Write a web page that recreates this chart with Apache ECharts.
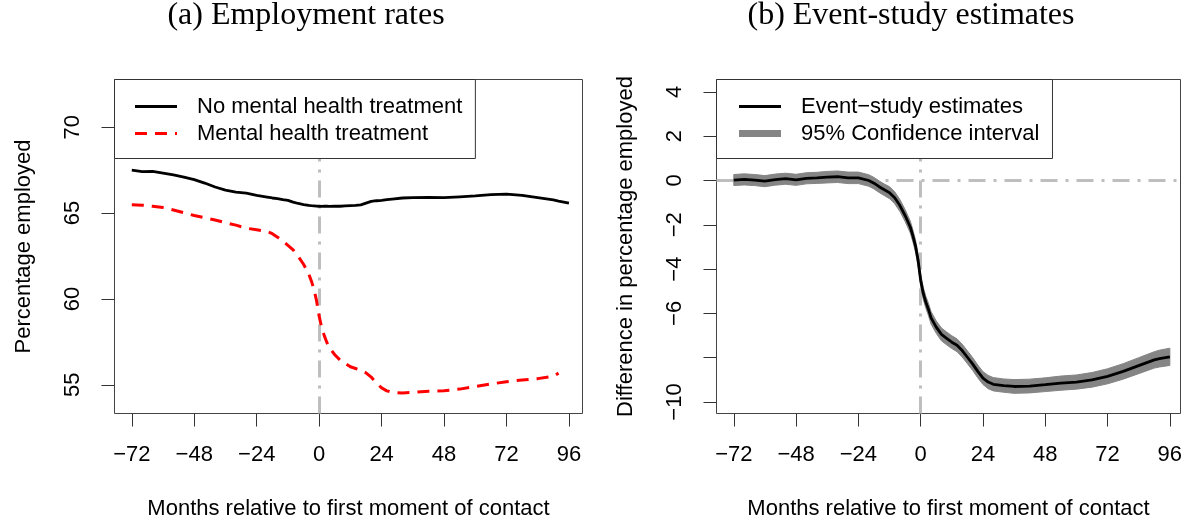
<!DOCTYPE html>
<html>
<head>
<meta charset="utf-8">
<script src="https://cdn.jsdelivr.net/npm/echarts@6/dist/echarts.min.js"></script>
<style>
  html, body { margin: 0; padding: 0; background: #fff; }
  #chart { width: 1191px; height: 523px; }
</style>
</head>
<body>
<div id="chart"></div>
<script>
// Months relative to first moment of contact (shared by every series)
const months = [-72, -68, -64, -60, -56, -52, -48, -44, -40, -36, -32, -28, -24, -20,
  -18, -16, -14, -12, -10, -8, -6, -4, -3, -2, -1, 0, 1, 2, 3, 4,
  6, 8, 10, 12, 14, 16, 18, 20, 22, 24, 26, 28,
  32, 36, 42, 48, 54, 60, 66, 72, 78, 84, 90, 92, 96];

// (a) Employment rates, in percent
const noTreatment = [67.50, 67.42, 67.43, 67.33, 67.22, 67.10, 66.95, 66.75, 66.52, 66.34, 66.22, 66.16, 66.03, 65.93,
  65.88, 65.84, 65.78, 65.74, 65.64, 65.56, 65.50, 65.45, 65.43, 65.42, 65.41, 65.40, 65.39, 65.41, 65.40, 65.39,
  65.41, 65.40, 65.42, 65.44, 65.45, 65.48, 65.58, 65.68, 65.72, 65.74, 65.78, 65.82,
  65.88, 65.90, 65.92, 65.90, 65.95, 66.00, 66.08, 66.11, 66.03, 65.90, 65.77, 65.70, 65.58];

const treatment = [65.49, 65.46, 65.40, 65.32, 65.18, 65.02, 64.86, 64.73, 64.60, 64.44, 64.30, 64.12, 64.03, 63.93,
  63.80, 63.60, 63.38, 63.12, 62.86, 62.47, 62.02, 61.45, 61.05, 60.55, 59.90, 59.00, 58.30, 57.85, 57.45, 57.15,
  56.75, 56.45, 56.25, 56.05, 55.95, 55.85, 55.70, 55.45, 55.10, 54.82, 54.65, 54.57,
  54.52, 54.56, 54.62, 54.66, 54.75, 54.90, 55.05, 55.18, 55.28, 55.36, 55.50, 55.68, null];

// (b) Event-study estimates with 95% confidence bounds
const estimate = [0.02, 0.05, 0.02, -0.03, 0.04, 0.08, 0.03, 0.10, 0.12, 0.15, 0.17, 0.12, 0.12, 0.00,
  -0.12, -0.28, -0.42, -0.55, -0.78, -1.13, -1.58, -2.10, -2.50, -2.95, -3.60, -4.50, -5.10, -5.50, -5.82, -6.20,
  -6.62, -6.95, -7.13, -7.30, -7.44, -7.68, -7.98, -8.28, -8.62, -8.92, -9.10, -9.20,
  -9.26, -9.30, -9.28, -9.22, -9.15, -9.10, -9.00, -8.84, -8.62, -8.36, -8.10, -8.04, -7.96];

const ciLower = [-0.23, -0.20, -0.23, -0.28, -0.21, -0.17, -0.22, -0.15, -0.13, -0.11, -0.09, -0.14, -0.14, -0.26,
  -0.38, -0.54, -0.68, -0.82, -1.05, -1.40, -1.85, -2.37, -2.77, -3.22, -3.87, -4.77, -5.37, -5.77, -6.10, -6.48,
  -6.90, -7.24, -7.42, -7.59, -7.73, -7.97, -8.27, -8.57, -8.91, -9.21, -9.40, -9.50,
  -9.56, -9.61, -9.59, -9.53, -9.47, -9.42, -9.33, -9.18, -8.97, -8.72, -8.47, -8.42, -8.35];

const ciUpper = [0.27, 0.30, 0.27, 0.22, 0.29, 0.33, 0.28, 0.35, 0.37, 0.41, 0.43, 0.38, 0.38, 0.26,
  0.14, -0.02, -0.16, -0.28, -0.51, -0.86, -1.31, -1.83, -2.23, -2.68, -3.33, -4.23, -4.83, -5.23, -5.54, -5.92,
  -6.34, -6.66, -6.84, -7.01, -7.15, -7.39, -7.69, -7.99, -8.33, -8.63, -8.80, -8.90,
  -8.96, -8.99, -8.97, -8.91, -8.83, -8.78, -8.67, -8.50, -8.27, -8.00, -7.73, -7.66, -7.57];

// Tick positions and labels
const xTicks = [-72, -48, -24, 0, 24, 48, 72, 96];
const leftYTicks = [55, 60, 65, 70];
const rightYTicks = [-10, -8, -6, -4, -2, 0, 2, 4];
const rightYLabels = [-10, -6, -4, -2, 0, 2, 4];

const SANS = 'Liberation Sans';
const SERIF = 'Liberation Serif';
const BAND = '#858585';
const pairs = ys => months.map((m, i) => [m, ys[i]]);
const fmt = v => String(v).replace('-', '\u2212');
const textBase = { fontFamily: SANS, fontSize: 22, color: '#000' };
const refLine = { color: '#bebebe', width: 3, type: [17, 8, 3, 8] };

function xAxis(gridIndex, min, max) {
  return {
    type: 'value', gridIndex, min, max,
    name: 'Months relative to first moment of contact',
    nameLocation: 'middle', nameGap: 84, nameTextStyle: textBase,
    axisLine: { show: false, onZero: false }, splitLine: { show: false },
    axisTick: { show: true, inside: false, length: 13, lineStyle: { color: '#333', width: 1 }, customValues: xTicks },
    axisLabel: Object.assign({ show: true, margin: 30, customValues: xTicks, formatter: fmt }, textBase)
  };
}

function yAxis(gridIndex, min, max, name, ticks, labels) {
  return {
    type: 'value', gridIndex, min, max, name,
    nameLocation: 'middle', nameGap: 80, nameRotate: 90, nameTextStyle: textBase,
    axisLine: { show: false, onZero: false }, splitLine: { show: false },
    axisTick: { show: true, inside: false, length: 13, lineStyle: { color: '#333', width: 1 }, customValues: ticks },
    axisLabel: Object.assign({ show: true, margin: 31, rotate: 90, customValues: labels, formatter: fmt }, textBase)
  };
}

function legend(names, left) {
  return {
    data: names, orient: 'vertical', left, top: 79.5,
    padding: [16, 13, 14, 19], itemWidth: 42, itemHeight: 22, itemGap: 5,
    backgroundColor: '#fff', borderColor: '#333', borderWidth: 1, borderRadius: 0,
    selectedMode: false,
    textStyle: Object.assign({ lineHeight: 22, padding: [0, 0, 0, 15] }, textBase),
    lineStyle: { width: 'inherit' },
    itemStyle: { opacity: 0 }
  };
}

// Confidence band: one polygon running along the upper bound and back along the lower bound
function renderBand(params, api) {
  if (params.dataIndex !== 0) return null;
  const pts = [];
  for (let i = 0; i < months.length; i++) pts.push(api.coord([months[i], ciUpper[i]]));
  for (let i = months.length - 1; i >= 0; i--) pts.push(api.coord([months[i], ciLower[i]]));
  return { type: 'polygon', shape: { points: pts }, style: { fill: BAND, stroke: BAND, lineWidth: 1 } };
}

const option = {
  animation: false,
  backgroundColor: '#fff',
  graphic: [
    { type: 'text', x: 306, y: 16, style: { text: '(a) Employment rates', font: '32px "' + SERIF + '"', fill: '#000', align: 'center', verticalAlign: 'middle' } },
    { type: 'text', x: 911, y: 16, style: { text: '(b) Event-study estimates', font: '32px "' + SERIF + '"', fill: '#000', align: 'center', verticalAlign: 'middle' } }
  ],
  grid: [
    { left: 114.5, top: 79.5, width: 468, height: 334, show: true, borderColor: '#444', borderWidth: 1, backgroundColor: 'transparent', containLabel: false, outerBoundsMode: 'none' },
    { left: 716.5, top: 79.5, width: 464, height: 334, show: true, borderColor: '#444', borderWidth: 1, backgroundColor: 'transparent', containLabel: false, outerBoundsMode: 'none' }
  ],
  xAxis: [xAxis(0, -78.65, 101.2), xAxis(1, -78.66, 100.1)],
  yAxis: [
    yAxis(0, 53.33, 72.78, 'Percentage employed', leftYTicks, leftYTicks),
    yAxis(1, -10.52, 4.56, 'Difference in percentage employed', rightYTicks, rightYLabels)
  ],
  legend: [
    legend(['No mental health treatment', 'Mental health treatment'], 114.5),
    legend(['Event\u2212study estimates', '95% Confidence interval'], 716.5)
  ],
  series: [
    {
      name: 'No mental health treatment', type: 'line', xAxisIndex: 0, yAxisIndex: 0,
      data: pairs(noTreatment), symbol: 'none', z: 3,
      lineStyle: { color: '#000', width: 2.8 }, itemStyle: { color: '#000' },
      markLine: { silent: true, symbol: 'none', z: 1, label: { show: false }, lineStyle: refLine, data: [{ xAxis: 0 }] }
    },
    {
      name: 'Mental health treatment', type: 'line', xAxisIndex: 0, yAxisIndex: 0,
      data: pairs(treatment), symbol: 'none', connectNulls: false, z: 3,
      lineStyle: { color: '#ff0000', width: 3, type: [12, 8] }, itemStyle: { color: '#ff0000' }
    },
    {
      name: 'ci-band', type: 'custom', xAxisIndex: 1, yAxisIndex: 1, z: 2,
      data: months.map((m, i) => [m, ciLower[i], ciUpper[i]]),
      encode: { x: 0, y: [1, 2] },
      renderItem: renderBand
    },
    {
      name: 'Event\u2212study estimates', type: 'line', xAxisIndex: 1, yAxisIndex: 1,
      data: pairs(estimate), symbol: 'none', z: 3,
      lineStyle: { color: '#000', width: 2.8 }, itemStyle: { color: '#000' },
      markLine: { silent: true, symbol: 'none', z: 1, label: { show: false }, lineStyle: refLine, data: [{ xAxis: 0 }, { yAxis: 0 }] }
    },
    {
      name: '95% Confidence interval', type: 'line', xAxisIndex: 1, yAxisIndex: 1,
      data: [], symbol: 'none',
      lineStyle: { color: BAND, width: 7 }, itemStyle: { color: BAND }
    }
  ]
};

const chart = echarts.init(document.getElementById('chart'), null, { renderer: 'canvas' });
chart.setOption(option);
</script>
</body>
</html>
